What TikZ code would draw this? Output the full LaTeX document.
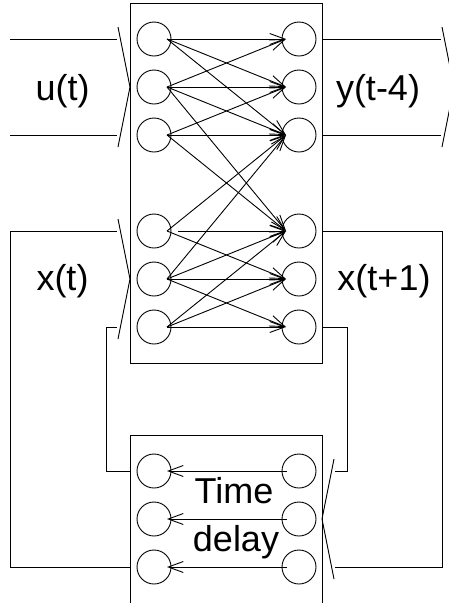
\documentclass[tikz,border=0pt]{standalone}
\usepackage{fontspec}
\setmainfont{Liberation Sans}
\usetikzlibrary{arrows.meta}
\begin{document}
\begin{tikzpicture}[x=1pt,y=-1pt,
  line width=0.9pt,
  neuron/.style={circle,draw,minimum size=34pt,inner sep=0pt},
  box/.style={draw,anchor=north west,minimum width=192pt,inner sep=0pt},
  arr/.style={-{Straight Barb[length=15pt,width=11pt]}},
  lbl/.style={anchor=base,inner sep=0pt,font=\fontsize{36}{40}\selectfont}]
\useasboundingbox (0,0) rectangle (449,603);
\clip (0,0) rectangle (449,603);
% boxes
\node[box,minimum height=360pt] (net) at (130,3) {};
\node[box,minimum height=200pt] (delay) at (130,435) {};
% network neurons
\foreach \i/\y in {1/39,2/87,3/135,4/231,5/279,6/327}{
  \node[neuron] (L\i) at (154,\y) {};
  \node[neuron] (R\i) at (299,\y) {};
}
% delay neurons
\foreach \i/\y in {1/471,2/519,3/567}{
  \node[neuron] (DL\i) at (154,\y) {};
  \node[neuron] (DR\i) at (299,\y) {};
}
% connections
\foreach \a/\b in {1/1,1/2,1/3,2/1,2/2,2/3,2/4,3/2,3/3,3/4,4/3,4/5,5/3,5/4,5/5,5/6,6/4,6/5,6/6}{
  \draw[arr] ([xshift=13pt]L\a.center) -- ([xshift=-13pt]R\b.center);
}
\draw[arr] ([xshift=24pt]L4.center) -- ([xshift=-13pt]R4.center);
\foreach \i in {1,2,3}{
  \draw[arr] ([xshift=-12pt]DR\i.center) -- ([xshift=13pt]DL\i.center);
}
% input / output lines
\draw (10,39) -- (117,39);
\draw (10,135) -- (117,135);
\draw (net.east |- R1) -- (441,39);
\draw (net.east |- R3) -- (441,135);
% brackets
\draw (118,27) -- (130,87) -- (118,147);
\draw (118,219) -- (130,279) -- (118,339);
\draw (442,27) -- (454,87) -- (442,147);
\draw (334,459) -- (322,519) -- (334,579);
% feedback loops
\draw (117,231) -- (10,231) -- (10,567) -- (delay.west |- DL3);
\draw (117,327) -- (106,327) -- (106,471) -- (delay.west |- DL1);
\draw (net.east |- R4) -- (442,231) -- (442,567) -- (335,567);
\draw (net.east |- R6) -- (347,327) -- (347,471) -- (335,471);
% labels
\node[lbl] (ut) at (62.5,100) {u(t)};
\node[lbl] (yt) at (378,100) {y(t-4)};
\node[lbl] (xt) at (62.5,290) {x(t)};
\node[lbl] (xt1) at (384,290) {x(t+1)};
\node[lbl] (time) at (234,503) {Time};
\node[lbl] (dly) at (236,551) {delay};
\end{tikzpicture}
\end{document}
